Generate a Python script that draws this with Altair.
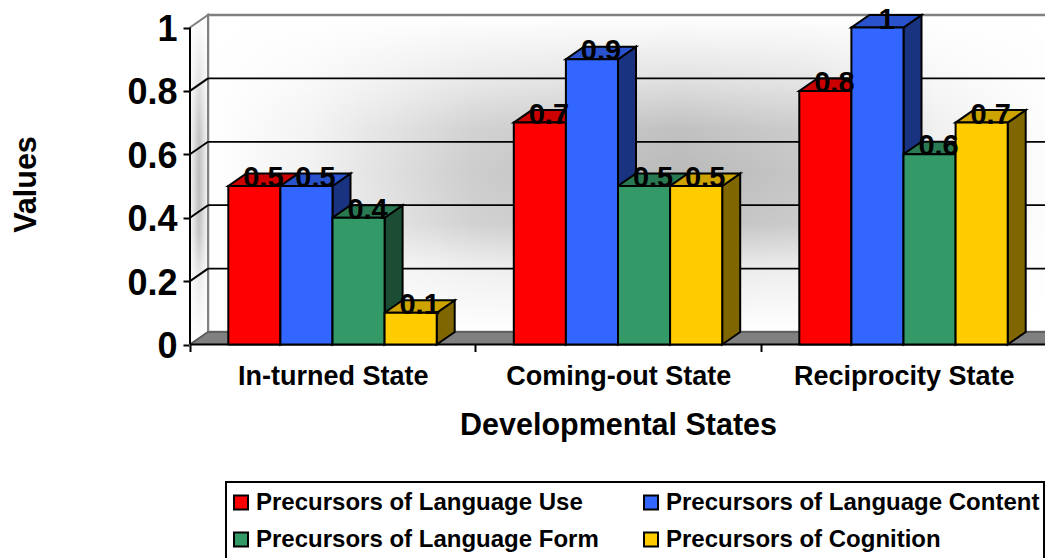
import json
import altair as alt
import pandas as pd

categories = ["In-turned State", "Coming-out State", "Reciprocity State"]
series = ["Precursors of Language Use", "Precursors of Language Content",
          "Precursors of Language Form", "Precursors of Cognition"]
language_use = [0.5, 0.7, 0.8]
language_content = [0.5, 0.9, 1]
language_form = [0.4, 0.5, 0.6]
cognition = [0.1, 0.5, 0.7]
y_ticks = [0, 0.2, 0.4, 0.6, 0.8, 1]
grid_levels = [0.2, 0.4, 0.6, 0.8]

front_colors = ["#FF0000", "#3366FF", "#339966", "#FFCC00"]
top_colors = ["#CC0000", "#2952CC", "#297A52", "#CCA300"]
side_colors = ["#800000", "#1A3380", "#1A4D33", "#806600"]
legend_order = [0, 2, 1, 3]

FONT = "Liberation Sans"
PX_X = 285.5
PX_Y = 317.0
W, H = 855, 336.5
DX = 18 / PX_X
DY = 12.5 / PX_Y
START = 38.3 / PX_X
BAR = 52.1 / PX_X
xs = alt.Scale(domain=[0, W / PX_X], nice=False, zero=False)
ys = alt.Scale(domain=[0, H / PX_Y], nice=False, zero=False)
NC = len(categories)

x_ticks = [i / 2 for i in range(2 * NC + 1)]
x_axis = alt.Axis(
    values=x_ticks,
    labelExpr="datum.value % 1 == 0 ? '' : " + json.dumps(categories) + "[floor(datum.value)]",
    tickOpacity={"condition": {"test": "datum.value % 1 == 0", "value": 1}, "value": 0},
    tickColor="black", tickWidth=2, tickSize=7, domain=False, grid=False,
    labelFont=FONT, labelFontWeight="bold", labelFontSize=27, labelColor="black",
    labelPadding=12, labelOverlap=False, labelBound=False, labelFlush=False, labelLimit=500,
    title="Developmental States", titleFont=FONT, titleFontWeight="bold", titleFontSize=30.5,
    titleColor="black", titleX=618 - 190, titleY=425 - 344, titleAlign="center", titleBaseline="middle",
)
y_axis = alt.Axis(
    values=y_ticks, labelExpr="format(datum.value, '~g')",
    tickColor="black", tickWidth=2, tickSize=7, domain=False, grid=False,
    labelFont=FONT, labelFontWeight="bold", labelFontSize=36, labelColor="black", labelPadding=6,
    labelOffset=2, labelOverlap=False, labelBound=False, labelFlush=False,
    title="Values", titleFont=FONT, titleFontWeight="bold", titleFontSize=30.5, titleColor="black",
    titleX=26 - 190, titleY=184 - 8, titleAlign="center", titleBaseline="middle", titleAngle=270,
)


def X():
    return alt.X("x:Q", scale=xs, axis=x_axis)


def Y():
    return alt.Y("y:Q", scale=ys, axis=y_axis)


fronts, sides, tops, labels = [], [], [], []
for s, (name, vals) in enumerate(zip(series, [language_use, language_content, language_form, cognition])):
    for c, v in enumerate(vals):
        x0 = c + START + s * BAR
        x1 = x0 + BAR
        bid = f"{c}-{s}"
        fronts.append(dict(x=x0, x2=x1, y=0, y2=v, series=name))
        sides += [dict(x=x1, y=0, y2=v, series=name, bid=bid),
                  dict(x=x1 + DX, y=DY, y2=v + DY, series=name, bid=bid)]
        tops += [dict(x=x0, y=v, y2=v, series=name, bid=bid),
                 dict(x=x0 + DX, y=v, y2=v + DY, series=name, bid=bid),
                 dict(x=x1, y=v, y2=v + DY, series=name, bid=bid),
                 dict(x=x1 + DX, y=v + DY, y2=v + DY, series=name, bid=bid)]
        labels.append(dict(x=x0 + BAR / 2 + DX / 2, y=v, t=f"{v:g}"))

sides.sort(key=lambda r: r["bid"])
tops.sort(key=lambda r: r["bid"])


def linear(horizontal, stops):
    return {"gradient": "linear", "x1": 0, "y1": 0, "x2": 1 if horizontal else 0, "y2": 0 if horizontal else 1,
            "stops": [{"offset": o, "color": c} for o, c in stops]}


wall_h = linear(True, [(0, "#ffffff"), (0.12, "#f2f2f2"), (0.31, "#cdcdcd"), (0.55, "#bababa"),
                       (0.7, "#c6c6c6"), (0.85, "#eeeeee"), (1, "#ffffff")])
white_v = linear(False, [(0, "rgba(255,255,255,1)"), (0.19, "rgba(255,255,255,0.6)"),
                         (0.36, "rgba(255,255,255,0.1)"), (0.5, "rgba(255,255,255,0)"),
                         (0.66, "rgba(255,255,255,0.1)"), (0.8, "rgba(255,255,255,0.7)"),
                         (1, "rgba(255,255,255,1)")])
side_h = linear(True, [(0, "#f8f8f8"), (0.5, "#bcbcbc"), (1, "#f8f8f8")])

wall_df = pd.DataFrame([dict(x=DX, x2=NC + DX, y=DY, y2=1 + DY)])
wall = alt.Chart(wall_df).mark_rect(fill=wall_h, clip=True).encode(
    x=X(), x2="x2:Q", y=Y(), y2="y2:Q")
wall_fade = alt.Chart(wall_df).mark_rect(fill=white_v, stroke="#808080", strokeWidth=2.5, clip=True).encode(
    x=X(), x2="x2:Q", y=Y(), y2="y2:Q")

left_df = pd.DataFrame([dict(x=0, y=0, y2=1), dict(x=DX, y=DY, y2=1 + DY)])
left_wall = alt.Chart(left_df).mark_area(fill=side_h).encode(x=X(), y=Y(), y2="y2:Q")
left_fade = alt.Chart(left_df).mark_area(fill=white_v, stroke="#808080", strokeWidth=2).encode(
    x=X(), y=Y(), y2="y2:Q")

floor = alt.Chart(pd.DataFrame([dict(x=0, y=0, y2=0), dict(x=DX, y=0, y2=DY),
                                dict(x=NC, y=0, y2=DY), dict(x=NC + DX, y=DY, y2=DY)])).mark_area(
    fill="#808080", stroke="#555555", strokeWidth=1.5, clip=True
).encode(x=X(), y=Y(), y2="y2:Q")

grid = alt.Chart(pd.DataFrame([dict(x=DX, x2=NC + DX, y=g + DY) for g in grid_levels])).mark_rule(
    color="black", strokeWidth=1.75, clip=True
).encode(x=X(), x2="x2:Q", y=Y())

slant_rows = []
for g in grid_levels:
    slant_rows += [dict(x=0, y=g, g=g), dict(x=DX, y=g + DY, g=g)]
slants = alt.Chart(pd.DataFrame(slant_rows)).mark_line(color="black", strokeWidth=2).encode(
    x=X(), y=Y(), detail="g:N")

axis_v = alt.Chart(pd.DataFrame([dict(x=0, y=0, y2=1)])).mark_rule(color="black", strokeWidth=2).encode(
    x=X(), y=Y(), y2="y2:Q")
axis_h = alt.Chart(pd.DataFrame([dict(x=0, x2=NC, y=0)])).mark_rule(color="black", strokeWidth=2).encode(
    x=X(), x2="x2:Q", y=Y())

side_layer = alt.Chart(pd.DataFrame(sides)).mark_area(stroke="black", strokeWidth=2).encode(
    x=X(), y=Y(), y2="y2:Q", detail="bid:N",
    color=alt.Color("series:N", scale=alt.Scale(domain=series, range=side_colors), legend=None))
top_layer = alt.Chart(pd.DataFrame(tops)).mark_area(stroke="black", strokeWidth=2).encode(
    x=X(), y=Y(), y2="y2:Q", detail="bid:N",
    color=alt.Color("series:N", scale=alt.Scale(domain=series, range=top_colors), legend=None))
front_layer = alt.Chart(pd.DataFrame(fronts)).mark_rect(stroke="black", strokeWidth=2).encode(
    x=X(), x2="x2:Q", y=Y(), y2="y2:Q",
    color=alt.Color("series:N",
                    scale=alt.Scale(domain=[series[i] for i in legend_order],
                                    range=[front_colors[i] for i in legend_order]),
                    legend=alt.Legend(
                        orient="none", legendX=229 - 190, legendY=490.5 - 8, columns=2, title=None,
                        symbolType="square", symbolSize=196, symbolStrokeColor="black", symbolStrokeWidth=2,
                        labelFont=FONT, labelFontWeight="bold", labelFontSize=24, labelColor="black",
                        labelLimit=500, labelOffset=3, padding=0, rowPadding=13, columnPadding=40,
                        symbolOpacity=1)))
label_layer = alt.Chart(pd.DataFrame(labels)).mark_text(
    font=FONT, fontWeight="bold", fontSize=29, color="black", baseline="alphabetic", align="center", dy=1
).encode(x=X(), y=Y(), text="t:N")

legend_box = alt.Chart(pd.DataFrame([dict(k=1)])).mark_rect(
    fill="white", stroke="black", strokeWidth=2
).encode(x=alt.value(226 - 190), x2=alt.value(1044 - 190), y=alt.value(482 - 8), y2=alt.value(562 - 8))

chart = alt.layer(
    wall, wall_fade, left_wall, left_fade, floor, grid, slants, axis_v, axis_h,
    side_layer, top_layer, front_layer, label_layer, legend_box
).resolve_scale(color="independent").properties(
    width=W, height=H,
    padding={"left": 182, "top": 0, "right": 0, "bottom": 213.5},
    autosize=alt.AutoSizeParams(type="none"),
    background="white",
).configure_view(stroke=None)

chart.save("out.html", embed_options={"renderer": "svg", "actions": False})
